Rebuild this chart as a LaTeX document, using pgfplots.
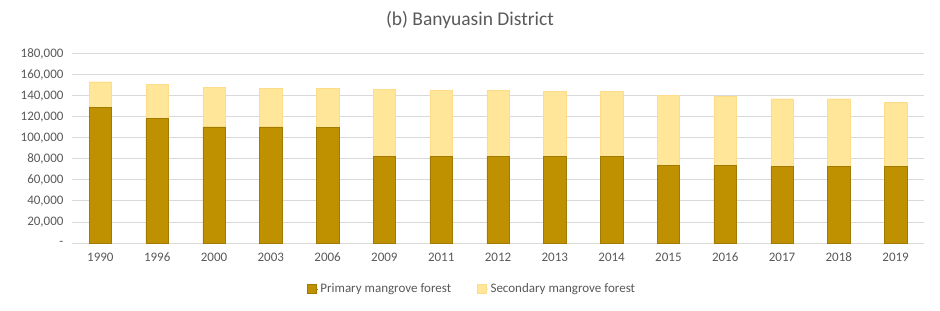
\documentclass[border=0pt]{standalone}
\usepackage{pgfplots}
\pgfplotsset{compat=1.18}
\usepackage{pgfplotstable}
\usepackage{fontspec}
\setmainfont{Carlito}
\definecolor{prim}{HTML}{BF9000}
\definecolor{sec}{HTML}{FFE699}
\definecolor{gridc}{HTML}{D9D9D9}
\definecolor{txt}{HTML}{595959}
\pgfplotstableread{
x year prim sec
0 1990 129400 24200
1 1996 118600 32500
2 2000 110700 37500
3 2003 110700 36900
4 2006 110100 37500
5 2009 82400 63900
6 2011 82400 63300
7 2012 82400 63300
8 2013 82400 62300
9 2014 82400 62300
10 2015 74100 66200
11 2016 74100 65500
12 2017 72800 64600
13 2018 72800 64600
14 2019 72800 61400
}\datatable
\begin{document}
\fontsize{13bp}{15bp}\selectfont
\begin{tikzpicture}
\path[use as bounding box] (0,0) rectangle (940bp,311bp);
\node[text=txt, font=\fontsize{19.5bp}{23bp}\selectfont] at (470bp,291bp) {(b) Banyuasin District};
\begin{axis}[
  at={(72bp,68bp)}, anchor=south west,
  scale only axis, width=852bp, height=189bp,
  ybar stacked, bar width=22.5bp,
  xmin=-0.5, xmax=14.5, ymin=0, ymax=180000,
  scaled y ticks=false,
  xtick=data,
  xticklabels={1990,1996,2000,2003,2006,2009,2011,2012,2013,2014,2015,2016,2017,2018,2019},
  ytick={0,20000,40000,60000,80000,100000,120000,140000,160000,180000},
  yticklabels={-,{20,000},{40,000},{60,000},{80,000},{100,000},{120,000},{140,000},{160,000},{180,000}},
  ymajorgrids, grid style={gridc, line width=1bp},
  axis line style={draw=none},
  axis x line*=bottom,
  x axis line style={gridc, line width=1bp},
  major tick length=0pt,
  tick label style={text=txt, font=\fontsize{13bp}{15bp}\selectfont},
  xticklabel style={yshift=-5bp, text depth=0pt, text height=9bp, anchor=north},
  yticklabel style={xshift=-4bp},
  legend style={at={(0.4695,-0.243)}, anchor=center, draw=none, legend columns=2,
    font=\fontsize{13bp}{15bp}\selectfont, text=txt,
    /tikz/every even column/.append style={column sep=24bp}},
  legend image code/.code={\path (0bp,0bp) -- (11bp,0bp); \fill[#1] (0bp,-4.5bp) rectangle (9bp,4.5bp);},
  clip=false,
]
\addplot[fill=prim, draw=prim!85!black, line width=0.4bp] table[x=x, y=prim] {\datatable};
\addplot[fill=sec, draw=sec!90!orange, line width=0.4bp] table[x=x, y=sec] {\datatable};
\legend{Primary mangrove forest, Secondary mangrove forest}
\end{axis}
\end{tikzpicture}
\end{document}
